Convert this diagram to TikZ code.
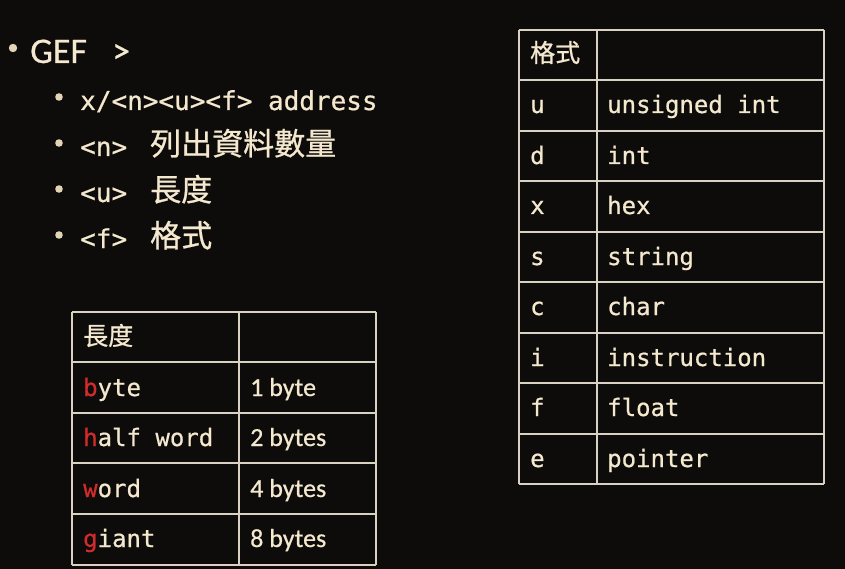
\documentclass[tikz,border=0pt]{standalone}
\usepackage{fontspec}
\setmainfont{Carlito}[FakeBold=0.6]
\newfontfamily\monof{DejaVu Sans Mono}[FakeBold=0.7]
\newfontfamily\cjkf{Noto Sans CJK TC}[FakeBold=0.8]
\definecolor{bg}{HTML}{0E0C0B}
\definecolor{cream}{HTML}{F4E8CE}
\definecolor{rulec}{HTML}{D9D2C4}
\definecolor{redl}{HTML}{D22B2B}
\definecolor{dotc}{HTML}{E2D4B6}
\begin{document}
\begin{tikzpicture}[x=1pt,y=-1pt,
  txt/.style={text=cream, inner sep=0pt, anchor=base west},
  bigtxt/.style={font=\fontsize{36}{40}\selectfont},
  itemtxt/.style={font=\fontsize{26}{30}\selectfont\monof},
  itemcjk/.style={font=\fontsize{31}{34}\selectfont\cjkf},
  cellmono/.style={font=\fontsize{24}{28}\selectfont\monof},
  cellsans/.style={font=\fontsize{26}{30}\selectfont},
  cellcjk/.style={font=\fontsize{25}{28}\selectfont\cjkf},
  tabline/.style={draw=rulec, line width=1.8pt}]
\fill[bg] (0,0) rectangle (845,569);
\useasboundingbox (0,0) rectangle (845,569);

% bullets
\fill[dotc] (13,48) circle (4.2);
\node[txt, bigtxt] (gef) at (30,63) {GEF\hspace{0.7em}>};
\foreach \y in {97,143,189,235} \fill[dotc] (59,\y) circle (3.8);
\node[txt, itemtxt] (i1) at (80,110) {x/<n><u><f> address};
\node[txt, itemtxt] (i2) at (80,156) {<n>};
\node[txt, itemcjk] (i2c) at (150,155) {列出資料數量};
\node[txt, itemtxt] (i3) at (80,202) {<u>};
\node[txt, itemcjk] (i3c) at (150,201) {長度};
\node[txt, itemtxt] (i4) at (80,248) {<f>};
\node[txt, itemcjk] (i4c) at (150,247) {格式};

% left table
\foreach \y in {312,362,413,463,514,565} \draw[tabline] (72,\y) -- (376,\y);
\foreach \x in {72,239,376} \draw[tabline] (\x,312) -- (\x,565);
\node[txt, cellcjk] (lh) at (83,345) {長度};
\node[txt, cellmono] (l1) at (83,396) {\textcolor{redl}{b}yte};
\node[txt, cellsans] (l1v) at (250,396) {1 byte};
\node[txt, cellmono] (l2) at (83,446) {\textcolor{redl}{h}alf word};
\node[txt, cellsans] (l2v) at (250,446) {2 bytes};
\node[txt, cellmono] (l3) at (83,497) {\textcolor{redl}{w}ord};
\node[txt, cellsans] (l3v) at (250,497) {4 bytes};
\node[txt, cellmono] (l4) at (83,547) {\textcolor{redl}{g}iant};
\node[txt, cellsans] (l4v) at (250,547) {8 bytes};

% right table
\foreach \y in {30,80,131,181,232,282,333,383,434,484} \draw[tabline] (519,\y) -- (824,\y);
\foreach \x in {519,597,824} \draw[tabline] (\x,30) -- (\x,484);
\node[txt, cellcjk] (rh) at (530,62) {格式};
\foreach \k/\a/\b/\y in {1/u/unsigned int/113, 2/d/int/164, 3/x/hex/214, 4/s/string/265, 5/c/char/315, 6/i/instruction/366, 7/f/float/416, 8/e/pointer/467}{
  \node[txt, cellmono] (r\k) at (530,\y) {\a};
  \node[txt, cellmono] (r\k v) at (607,\y) {\b};
}
\end{tikzpicture}
\end{document}
